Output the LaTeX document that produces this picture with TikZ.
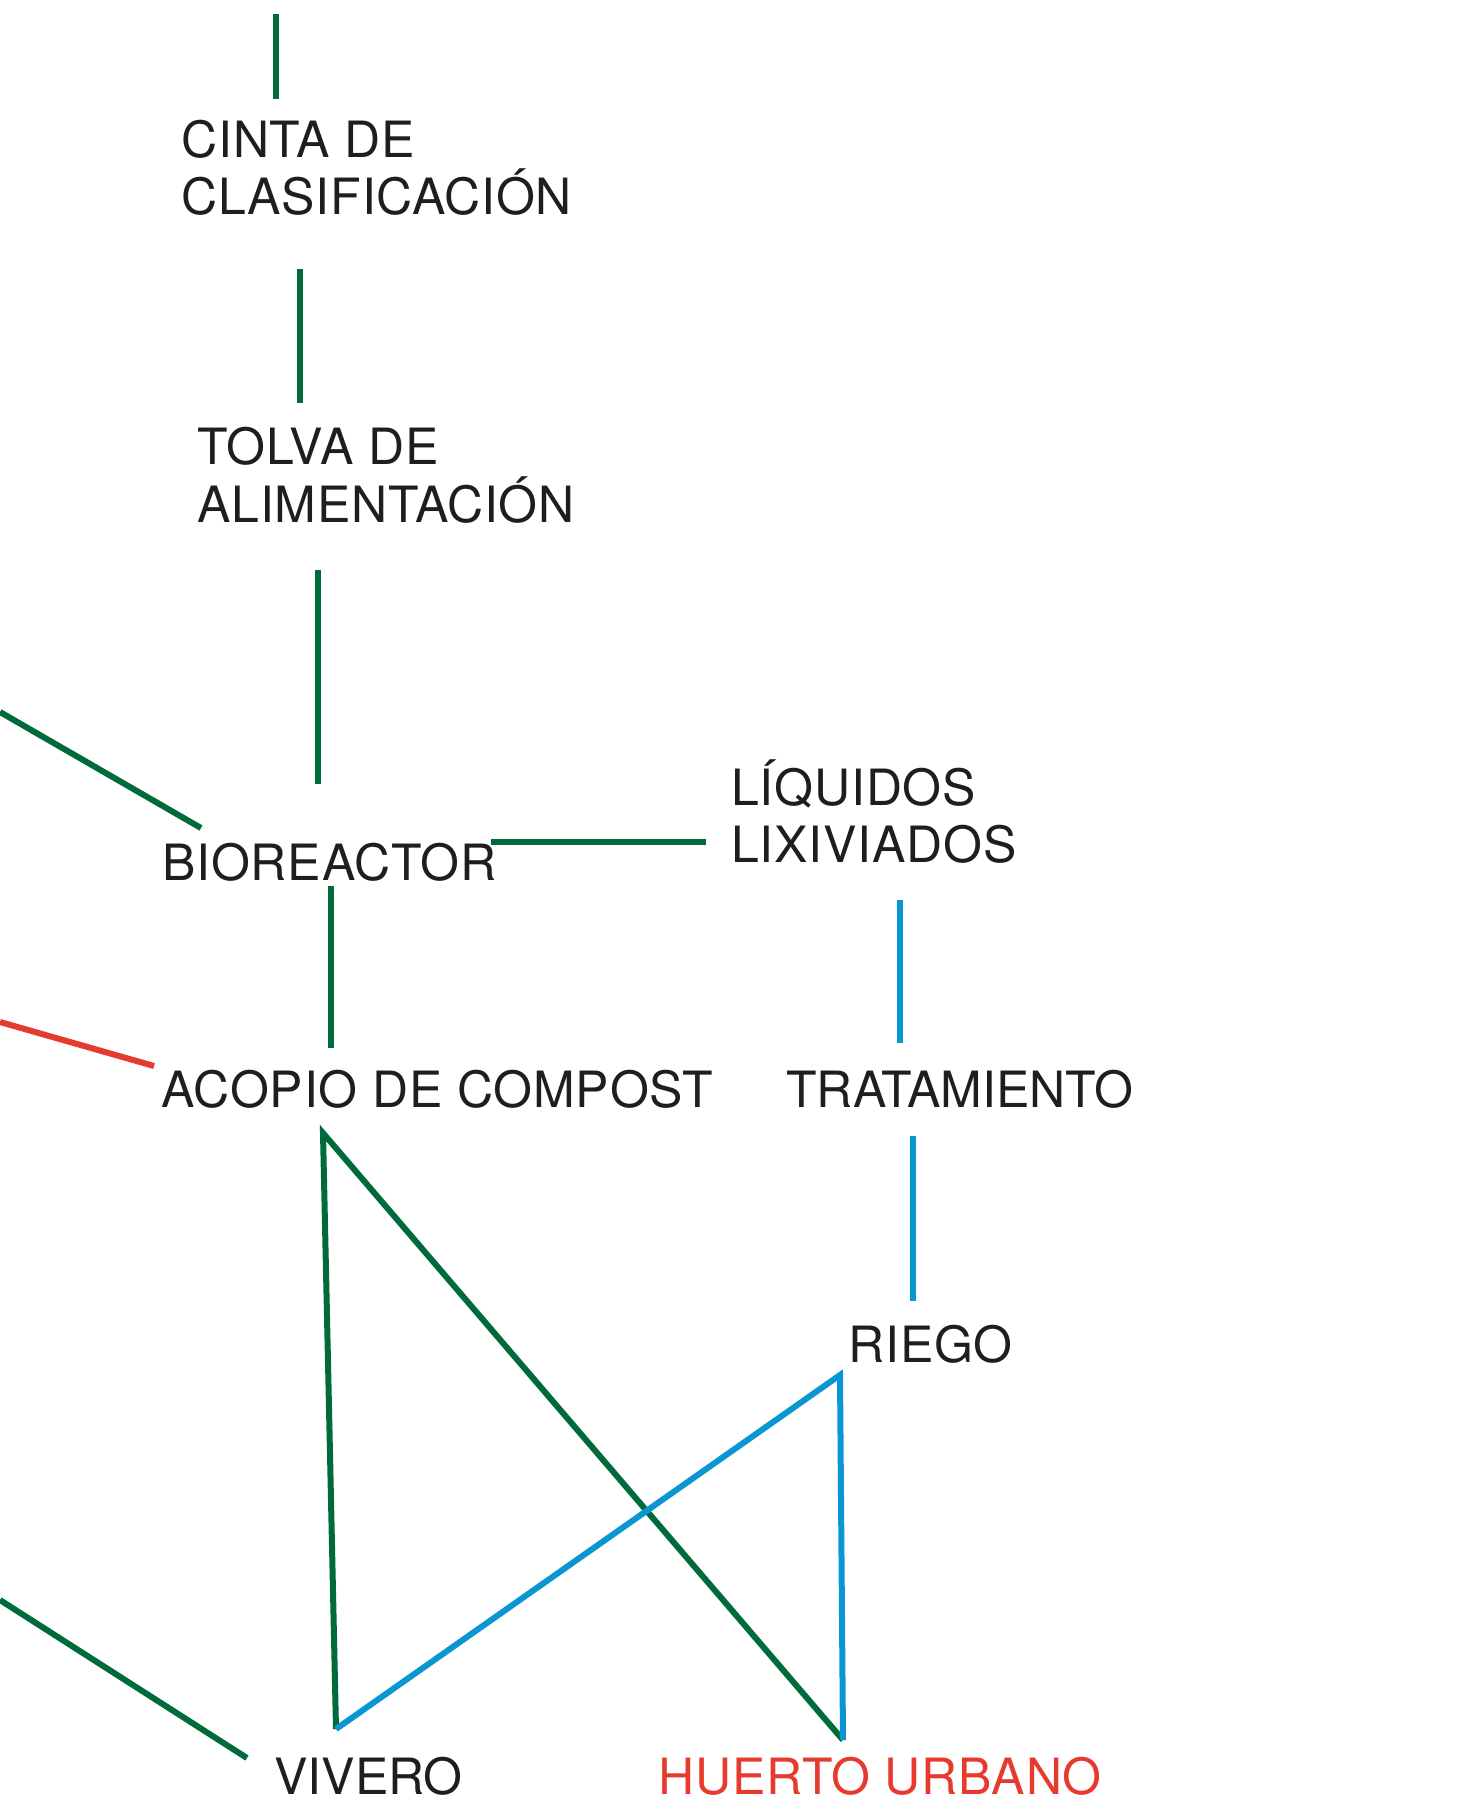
\documentclass[tikz,border=0pt]{standalone}
\usepackage{fontspec}
\setmainfont{TeX Gyre Heros}[LetterSpace=1.6]
\definecolor{verdeosc}{HTML}{006B3A}
\definecolor{azulagua}{HTML}{0A96D2}
\definecolor{rojohuerto}{HTML}{E73A2F}
\definecolor{tinta}{HTML}{1E1E1E}

\begin{document}
\begin{tikzpicture}[x=0.5pt,y=-0.5pt,
    etiqueta/.style={anchor=base west,inner sep=0pt,align=left,text=tinta,
      font=\fontsize{25}{28.5}\selectfont},
    apretada/.style={font=\fontsize{25}{28.5}\selectfont\addfontfeature{LetterSpace=0}},
    verde/.style={draw=verdeosc,line width=3pt,line join=miter},
    azul/.style={draw=azulagua,line width=3pt,line join=miter},
    rojo/.style={draw=rojohuerto,line width=3pt}]
  \useasboundingbox (0,0) rectangle (1466,1818);

  % etiquetas (base = ultima linea)
  \node[etiqueta] (cinta)  at (181,215)  {CINTA DE\\CLASIFICACIÓN};
  \node[etiqueta] (tolva)  at (197,522)  {TOLVA DE\\ALIMENTACIÓN};
  \node[etiqueta] (bio)    at (162,880)  {BIOREACTOR};
  \node[etiqueta] (liq)    at (731,862)  {LÍQUIDOS\\LIXIVIADOS};
  \node[etiqueta] (acopio) at (161,1107) {ACOPIO DE COMPOST};
  \node[etiqueta,apretada] (trat) at (786,1107) {TRATAMIENTO};
  \node[etiqueta] (riego)  at (848,1362) {RIEGO};
  \node[etiqueta,apretada] (vivero) at (274,1794) {VIVERO};
  \node[etiqueta,text=rojohuerto] (huerto) at (658,1794) {HUERTO URBANO};

  % extremos de las lineas
  \coordinate (entrada)   at (276,14);
  \coordinate (cinta-s)   at (276,99);
  \coordinate (cinta-b)   at (300,269);
  \coordinate (tolva-n)   at (300,403);
  \coordinate (tolva-s)   at (318,570);
  \coordinate (bio-n)     at (318,784);
  \coordinate (borde-a)   at (0,712);
  \coordinate (bio-nw)    at (201,828);
  \coordinate (bio-e)     at (491,842);
  \coordinate (liq-w)     at (706,842);
  \coordinate (bio-s)     at (331,886);
  \coordinate (acopio-n)  at (331,1048);
  \coordinate (borde-b)   at (0,1022);
  \coordinate (acopio-w)  at (154,1066);
  \coordinate (liq-s)     at (900,900);
  \coordinate (trat-n)    at (900,1043);
  \coordinate (trat-s)    at (913,1136);
  \coordinate (riego-n)   at (913,1301);
  \coordinate (acopio-s)  at (323,1133);
  \coordinate (riego-s)   at (840,1375);
  \coordinate (vivero-n)  at (336,1729);
  \coordinate (huerto-n)  at (843,1740);
  \coordinate (borde-c)   at (0,1600);
  \coordinate (vivero-nw) at (247,1758);

  % flujo de residuos
  \draw[verde] (entrada) -- (cinta-s);
  \draw[verde] (cinta-b) -- (tolva-n);
  \draw[verde] (tolva-s) -- (bio-n);
  \draw[verde] (borde-a) -- (bio-nw);
  \draw[verde] (bio-e) -- (liq-w);
  \draw[verde] (bio-s) -- (acopio-n);
  \draw[rojo]  (borde-b) -- (acopio-w);
  \draw[verde] (vivero-n) -- (acopio-s) -- (huerto-n);
  \draw[verde] (borde-c) -- (vivero-nw);

  % agua
  \draw[azul] (liq-s) -- (trat-n);
  \draw[azul] (trat-s) -- (riego-n);
  \draw[azul] (vivero-n) -- (riego-s) -- (huerto-n);
\end{tikzpicture}
\end{document}
